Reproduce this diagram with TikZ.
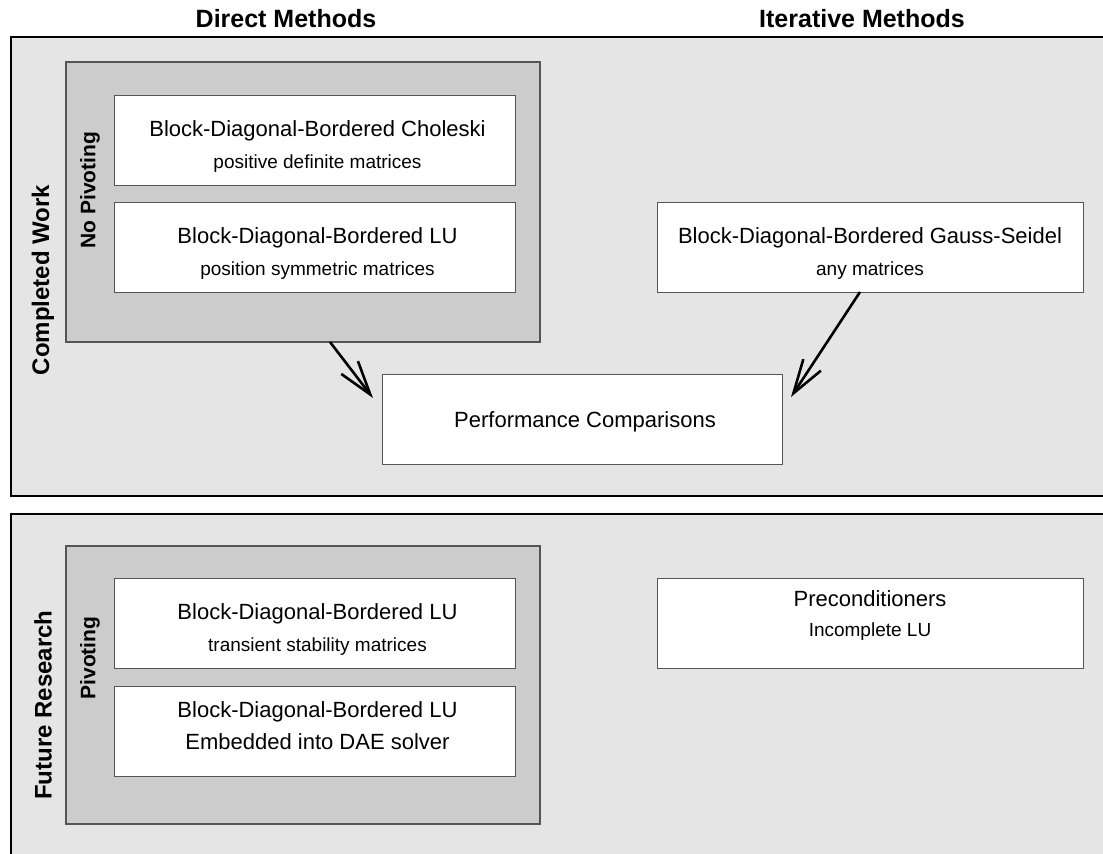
\documentclass[tikz,border=0pt]{standalone}
\usepackage{fontspec}
\setmainfont{Liberation Sans}
\usetikzlibrary{arrows.meta}
\definecolor{panelgray}{HTML}{E5E5E5}
\definecolor{groupgray}{HTML}{CCCCCC}
\definecolor{edgegray}{HTML}{555555}
\tikzset{
  panel/.style={draw=black, line width=1.6pt, fill=panelgray},
  group/.style={draw=edgegray, line width=1.3pt, fill=groupgray},
  method/.style={draw=edgegray, line width=1pt, fill=white, inner sep=0pt},
  header/.style={font=\bfseries\fontsize{25}{30}\selectfont},
  sidelabel/.style={font=\bfseries\fontsize{24}{28}\selectfont, rotate=90},
  grouplabel/.style={font=\bfseries\fontsize{21}{25}\selectfont, rotate=90},
  maintext/.style={font=\fontsize{22}{26}\selectfont, anchor=base, inner sep=0pt},
  subtext/.style={font=\fontsize{19}{22}\selectfont, anchor=base, inner sep=0pt},
  flow/.style={line width=2.6pt, -{Straight Barb[length=34pt, width=21pt]}}
}
\begin{document}
\begin{tikzpicture}[x=1pt, y=-1pt]
\useasboundingbox (0,0) rectangle (1103,854);
\fill[white] (0,0) rectangle (1103,854);

% column headings
\node[header] (hdirect) at (286,19) {Direct Methods};
\node[header] (hiter) at (862,19) {Iterative Methods};

% the two panels (they run past the right and bottom edges)
\draw[panel] (11,37) rectangle (1110,496);
\draw[panel] (11,514) rectangle (1110,870);

% ---------- completed work ----------
\node[sidelabel] (lcompleted) at (43,280) {Completed Work};
\draw[group] (66,62) rectangle (540,342);
\node[grouplabel] (lnopiv) at (90,190) {No Pivoting};

\node[method, minimum width=401pt, minimum height=90pt] (chol) at (314.5,140) {};
\node[maintext] (cholA) at ([xshift=3pt, yshift=-8pt]chol.center |- 0,128) {Block-Diagonal-Bordered Choleski};
\node[subtext] (cholB) at ([xshift=3pt, yshift=-6pt]chol.center |- 0,162) {positive definite matrices};

\node[method, minimum width=401pt, minimum height=90pt] (lu) at (314.5,247) {};
\node[maintext] (luA) at ([xshift=3pt, yshift=-8pt]lu.center |- 0,235) {Block-Diagonal-Bordered LU};
\node[subtext] (luB) at ([xshift=3pt, yshift=-6pt]lu.center |- 0,269) {position symmetric matrices};

\node[method, minimum width=426pt, minimum height=90pt] (gs) at (870,247) {};
\node[maintext] (gsA) at ([yshift=-8pt]gs.center |- 0,235) {Block-Diagonal-Bordered Gauss-Seidel};
\node[subtext] (gsB) at ([yshift=-6pt]gs.center |- 0,269) {any matrices};

\node[method, minimum width=400pt, minimum height=90pt] (perf) at (582,419) {};
\node[maintext] (perfA) at ([xshift=3pt, yshift=-8pt]perf.center) {Performance Comparisons};

\coordinate (nopivfoot) at (330,342);
\coordinate (perfleft) at (373,398);
\coordinate (gsfoot) at (860,292);
\coordinate (perfright) at (791,397);
\draw[flow] (nopivfoot) -- (perfleft);
\draw[flow] (gsfoot) -- (perfright);

% ---------- future research ----------
\node[sidelabel] (lfuture) at (43,705) {Future Research};
\draw[group] (66,546) rectangle (540,824);
\node[grouplabel] (lpiv) at (90,658) {Pivoting};

\node[method, minimum width=401pt, minimum height=90pt] (lut) at (314.5,623) {};
\node[maintext] (lutA) at ([xshift=3pt, yshift=-8pt]lut.center |- 0,611) {Block-Diagonal-Bordered LU};
\node[subtext] (lutB) at ([xshift=3pt, yshift=-6pt]lut.center |- 0,645) {transient stability matrices};

\node[method, minimum width=401pt, minimum height=90pt] (dae) at (314.5,731) {};
\node[maintext] (daeA) at ([xshift=3pt, yshift=-8pt]dae.center |- 0,709) {Block-Diagonal-Bordered LU};
\node[maintext] (daeB) at ([xshift=3pt, yshift=-8pt]dae.center |- 0,741) {Embedded into DAE solver};

\node[method, minimum width=426pt, minimum height=90pt] (pre) at (870,623) {};
\node[maintext] (preA) at ([yshift=-8pt]pre.center |- 0,598) {Preconditioners};
\node[subtext] (preB) at ([yshift=-6pt]pre.center |- 0,630) {Incomplete LU};
\end{tikzpicture}
\end{document}
